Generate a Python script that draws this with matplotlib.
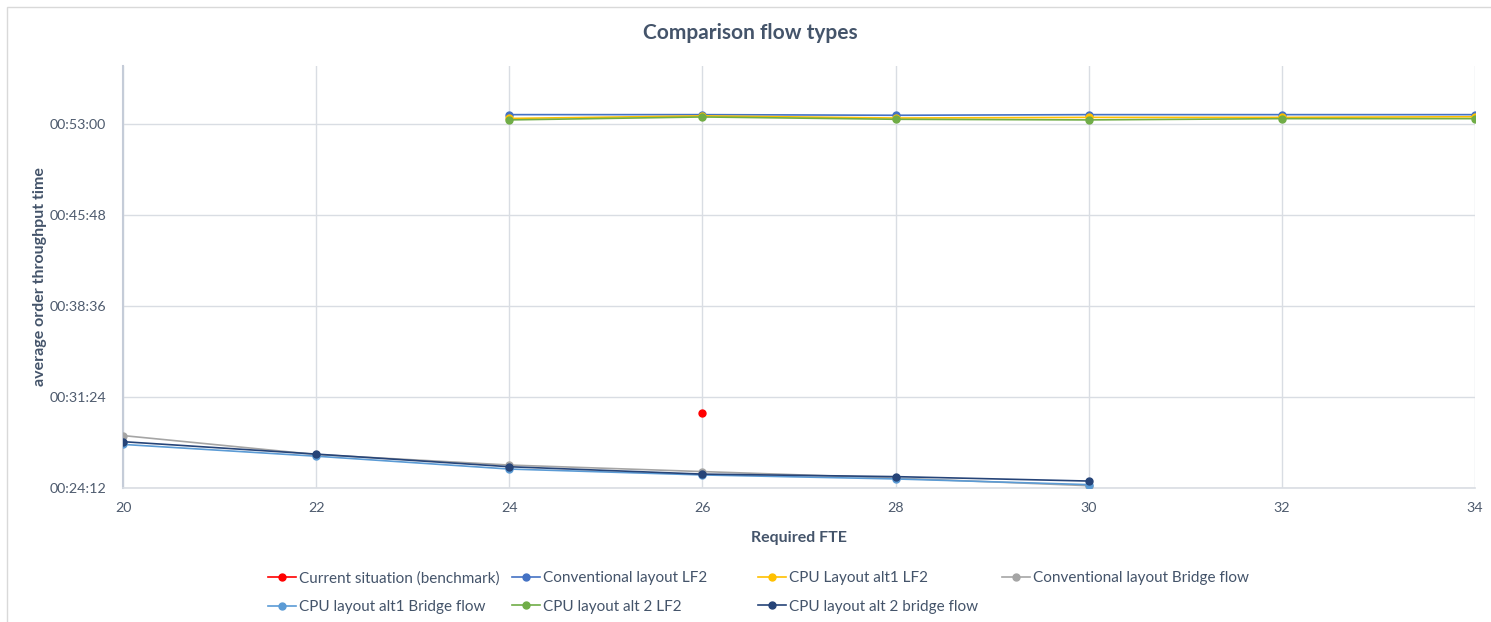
import matplotlib
matplotlib.use("Agg")
import matplotlib.pyplot as plt
from matplotlib.ticker import FuncFormatter, FixedLocator
from matplotlib.lines import Line2D
from matplotlib.patches import Rectangle

plt.rcParams['font.family'] = ['Lato', 'DejaVu Sans']

# average order throughput time per scenario, in seconds
fte_top = [24, 26, 28, 30, 32, 34]
fte_bottom = [20, 22, 24, 26, 28, 30]

benchmark_x = [26]
benchmark_y = [1807]

conv_lf2 = [3225, 3225, 3222, 3225, 3225, 3225]
cpu_alt1_lf2 = [3207, 3219, 3209, 3212, 3212, 3215]
cpu_alt2_lf2 = [3200, 3214, 3203, 3200, 3206, 3206]

conv_bridge = [1701, 1611, 1561, 1530, 1499, 1463]
cpu_alt1_bridge = [1659, 1603, 1542, 1514, 1495, 1468]
cpu_alt2_bridge = [1672, 1613, 1553, 1518, 1506, 1485]

labels = ["Current situation (benchmark)", "Conventional layout LF2",
          "CPU Layout alt1 LF2", "Conventional layout Bridge flow",
          "CPU layout alt1 Bridge flow", "CPU layout alt 2 LF2",
          "CPU layout alt 2 bridge flow"]
colors = ["#FF0000", "#4472C4", "#FFC000", "#A5A5A5",
          "#5B9BD5", "#70AD47", "#264478"]

y_ticks = [1452 + 432 * k for k in range(5)]
x_ticks = [20, 22, 24, 26, 28, 30, 32, 34]

def hms(v, pos=None):
    v = int(round(v))
    return "%02d:%02d:%02d" % (v // 3600, (v % 3600) // 60, v % 60)

fig = plt.figure(figsize=(14.91, 6.22), dpi=100)
ax = fig.add_axes([123/1491, 1 - 488/622, (1475-123)/1491, (488-66)/622])

series = [
    (benchmark_x, benchmark_y),
    (fte_top, conv_lf2),
    (fte_top, cpu_alt1_lf2),
    (fte_bottom, conv_bridge),
    (fte_bottom, cpu_alt1_bridge),
    (fte_top, cpu_alt2_lf2),
    (fte_bottom, cpu_alt2_bridge),
]
for i, (xs, ys) in enumerate(series):
    ax.plot(xs, ys, "-o", color=colors[i], lw=1.2, ms=5, zorder=3 + i)

ax.set_xlim(20, 34)
ax.set_ylim(1452, 3456)
ax.xaxis.set_major_locator(FixedLocator(x_ticks))
ax.yaxis.set_major_locator(FixedLocator(y_ticks))
ax.yaxis.set_major_formatter(FuncFormatter(hms))
ax.grid(True, color="#D9DDE3", lw=1.0)
ax.set_axisbelow(True)
for s in ["top", "right"]:
    ax.spines[s].set_visible(False)
ax.spines["left"].set_color("#C5CCD8")
ax.spines["left"].set_linewidth(1.5)
ax.spines["bottom"].set_color("#D9DDE3")
ax.spines["bottom"].set_linewidth(1.2)
ax.tick_params(axis="x", length=0, labelsize=10.3, labelcolor="#4E5B6E", pad=10)
ax.tick_params(axis="y", length=0, labelsize=10.3, labelcolor="#4E5B6E", pad=12)

ax.set_xlabel("Required FTE", fontsize=11.5, fontweight="bold",
              color="#44546A", labelpad=12)
ax.set_ylabel("average order throughput time", fontsize=11.5,
              fontweight="bold", color="#44546A", labelpad=2)
fig.text(750/1491, 1 - 33/622, "Comparison flow types", fontsize=15,
         fontweight="bold", color="#44546A", ha="center", va="center")

# legend: four columns laid out row by row
col_x = [268, 512, 758, 1002]
cols = [[0, 4], [1, 5], [2, 6], [3]]
for cx, idx in zip(col_x, cols):
    handles = [Line2D([0], [0], color=colors[i], marker="o", lw=1.2, ms=5)
               for i in idx]
    fig.legend(handles, [labels[i] for i in idx], loc="upper left",
               bbox_to_anchor=(cx/1491, 1 - 571/622), frameon=False,
               fontsize=11, labelcolor="#44546A", handlelength=1.8,
               handletextpad=0.25, labelspacing=0.95, borderpad=0,
               borderaxespad=0)

fig.patches.append(Rectangle((7/1491, -0.1), 1.2, 1 - 7/622 + 0.1,
                             transform=fig.transFigure, fill=False,
                             edgecolor="#D9D9D9", lw=1.0))

fig.savefig("out.png", dpi=100)
